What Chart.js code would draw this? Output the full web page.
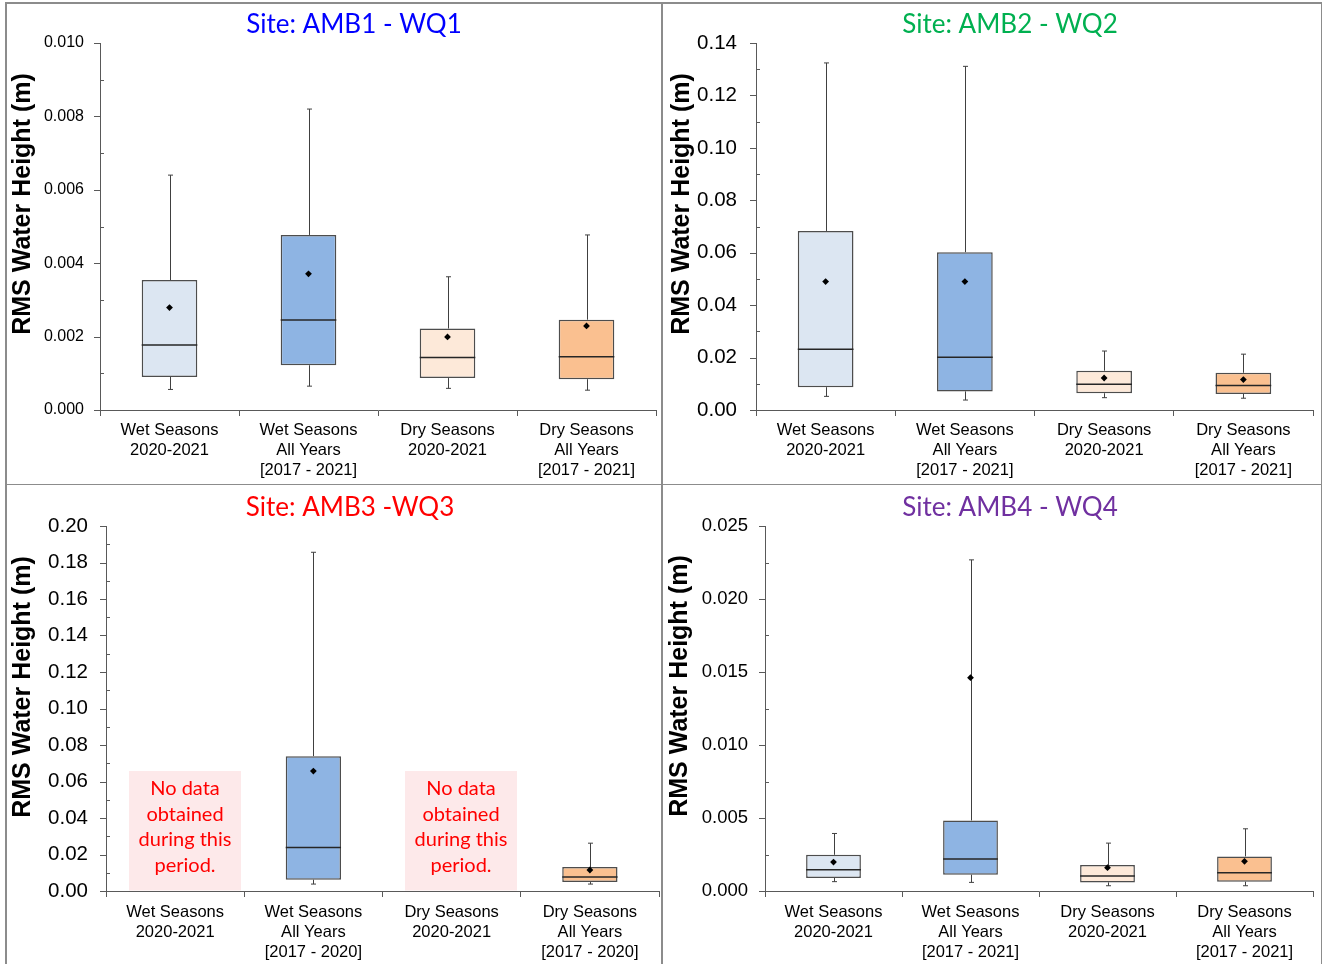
<!DOCTYPE html>
<html><head><meta charset="utf-8">
<script src="https://cdn.jsdelivr.net/npm/chart.js@4.4.1/dist/chart.umd.min.js"></script>
<style>
html,body{margin:0;padding:0;background:#fff;}
body{width:1327px;height:964px;position:relative;overflow:hidden;}
canvas{position:absolute;}
.f{position:absolute;background:#8c8c8c;z-index:5;}
</style></head><body>
<canvas id="c1" width="663" height="485" style="left:0px;top:0px"></canvas>
<canvas id="c2" width="664" height="485" style="left:663px;top:0px"></canvas>
<canvas id="c3" width="663" height="479" style="left:0px;top:485px"></canvas>
<canvas id="c4" width="664" height="479" style="left:663px;top:485px"></canvas>
<div class="f" style="left:5px;top:2px;width:1317px;height:1.5px"></div>
<div class="f" style="left:5px;top:2px;width:1.5px;height:962px"></div>
<div class="f" style="left:1320.5px;top:2px;width:1.5px;height:962px"></div>
<div class="f" style="left:661px;top:2px;width:1.5px;height:962px"></div>
<div class="f" style="left:5px;top:483.5px;width:1317px;height:1.5px"></div>
<script>
// ---- categories ----
const categoriesA = [["Wet Seasons","2020-2021"],["Wet Seasons","All Years","[2017 - 2021]"],["Dry Seasons","2020-2021"],["Dry Seasons","All Years","[2017 - 2021]"]];
const categoriesWQ3 = [["Wet Seasons","2020-2021"],["Wet Seasons","All Years","[2017 - 2020]"],["Dry Seasons","2020-2021"],["Dry Seasons","All Years","[2017 - 2020]"]];
const boxColors = ['#DCE6F2','#8EB4E3','#FDE9D9','#FAC090'];

// ---- Site AMB1 - WQ1 ----
const amb1Min    = [0.00056,0.00065,0.00059,0.00054];
const amb1Q1     = [0.00090,0.00122,0.00087,0.00084];
const amb1Median = [0.00177,0.00245,0.00143,0.00145];
const amb1Q3     = [0.00354,0.00477,0.00222,0.00246];
const amb1Max    = [0.00640,0.00820,0.00363,0.00477];
const amb1Mean   = [0.00279,0.00371,0.00199,0.00229];

// ---- Site AMB2 - WQ2 ----
const amb2Min    = [0.0052,0.0038,0.0047,0.0045];
const amb2Q1     = [0.0087,0.0071,0.0064,0.0061];
const amb2Median = [0.0232,0.0201,0.0098,0.0093];
const amb2Q3     = [0.0683,0.0602,0.0150,0.0142];
const amb2Max    = [0.1324,0.1311,0.0225,0.0213];
const amb2Mean   = [0.0490,0.0490,0.0122,0.0116];

// ---- Site AMB3 - WQ3 ----
const amb3Min    = [null,0.0038,null,0.0038];
const amb3Q1     = [null,0.0062,null,0.0049];
const amb3Median = [null,0.0239,null,0.0077];
const amb3Q3     = [null,0.0739,null,0.0131];
const amb3Max    = [null,0.1856,null,0.0262];
const amb3Mean   = [null,0.0657,null,0.0115];

// ---- Site AMB4 - WQ4 ----
const amb4Min    = [0.00064,0.00059,0.00036,0.00036];
const amb4Q1     = [0.00089,0.00112,0.00059,0.00064];
const amb4Median = [0.00146,0.00219,0.00103,0.00125];
const amb4Q3     = [0.00248,0.00483,0.00178,0.00237];
const amb4Max    = [0.00394,0.02268,0.00328,0.00426];
const amb4Mean   = [0.00198,0.01461,0.00160,0.00203];

// ---- y axis ranges / ticks ----
const amb1Axis = {max:0.010, major:0.002, minor:0.001, dec:3};
const amb2Axis = {max:0.14, major:0.02, minor:0.01, dec:2};
const amb3Axis = {max:0.20, major:0.02, minor:0.01, dec:2};
const amb4Axis = {max:0.025, major:0.005, minor:0.0025, dec:3};

const noDataText = ["No data","obtained","during this","period."];

const AXIS_COLOR = '#595959';

function isMajor(v, major){ const r = v/major; return Math.abs(r-Math.round(r)) < 1e-6; }

const boxPlugin = {
  id:'boxExtras',
  afterDatasetDraw(chart, args, opts){
    if (args.index !== 0) return;
    const ctx = chart.ctx, y = chart.scales.y;
    const meta = chart.getDatasetMeta(0);
    meta.data.forEach((el, i) => {
      if (opts.median[i] == null) return;
      const x = Math.round(el.x) + 0.5, w = el.width;
      ctx.save();
      ctx.strokeStyle = '#404040'; ctx.lineWidth = 1;
      const yQ3 = y.getPixelForValue(opts.q3[i]), yMax = y.getPixelForValue(opts.max[i]);
      const yQ1 = y.getPixelForValue(opts.q1[i]), yMin = y.getPixelForValue(opts.min[i]);
      ctx.beginPath();
      ctx.moveTo(x, yQ3); ctx.lineTo(x, yMax);
      ctx.moveTo(x-2.5, yMax); ctx.lineTo(x+2.5, yMax);
      ctx.moveTo(x, yQ1); ctx.lineTo(x, yMin);
      ctx.moveTo(x-2.5, yMin); ctx.lineTo(x+2.5, yMin);
      ctx.stroke();
      const yMed = y.getPixelForValue(opts.median[i]);
      ctx.strokeStyle = '#262626'; ctx.lineWidth = 1.5;
      ctx.beginPath(); ctx.moveTo(el.x - w/2, yMed); ctx.lineTo(el.x + w/2, yMed); ctx.stroke();
      ctx.restore();
    });
  }
};

const tickPlugin = {
  id:'minorTicks',
  afterDraw(chart, args, opts){
    const ctx = chart.ctx, y = chart.scales.y, left = chart.chartArea.left;
    ctx.save(); ctx.strokeStyle = AXIS_COLOR; ctx.lineWidth = 1;
    ctx.beginPath();
    y.ticks.forEach(t => {
      const py = Math.round(y.getPixelForValue(t.value)) + 0.5;
      if (isMajor(t.value, opts.major)) { ctx.moveTo(left-6, py); ctx.lineTo(left, py); }
      else { ctx.moveTo(left, py); ctx.lineTo(left+4, py); }
    });
    ctx.stroke(); ctx.restore();
  }
};

const decorPlugin = {
  id:'decor',
  beforeDatasetsDraw(chart, args, opts){
    const ctx = chart.ctx;
    (opts.notes||[]).forEach(n => {
      ctx.save();
      ctx.fillStyle = '#FDE9EA';
      ctx.fillRect(n.x0, n.y0, n.x1-n.x0, n.y1-n.y0);
      ctx.fillStyle = '#FF0000';
      ctx.font = '20px Lato';
      ctx.textAlign = 'center'; ctx.textBaseline = 'alphabetic';
      n.lines.forEach((ln, k) => ctx.fillText(ln, (n.x0+n.x1)/2, n.base + k*25.7));
      ctx.restore();
    });
  },
  afterDraw(chart, args, opts){
    const ctx = chart.ctx;
    ctx.save();
    ctx.fillStyle = opts.titleColor;
    ctx.font = '26px Lato';
    ctx.textAlign = 'center'; ctx.textBaseline = 'alphabetic';
    ctx.fillText(opts.title, opts.tx, opts.ty);
    ctx.translate(opts.yx, opts.yy);
    ctx.rotate(-Math.PI/2);
    ctx.fillStyle = '#000';
    ctx.font = 'bold 25px "Liberation Sans", Arial';
    ctx.textBaseline = 'middle';
    ctx.fillText(opts.yTitle, 0, 0);
    ctx.restore();
  }
};

function makeChart(id, cfg){
  const d = cfg.data;
  const ax = cfg.axis;
  new Chart(document.getElementById(id), {
    data: {
      labels: cfg.labels,
      datasets: [
        { type:'bar', order:2,
          data: d.q1.map((v,i) => v==null ? null : [v, d.q3[i]]),
          backgroundColor: boxColors, borderColor:'#4d4d4d', borderWidth:1.5, borderSkipped:false,
          barPercentage:0.4, categoryPercentage:1.0 },
        { type:'line', order:1, data: d.mean, showLine:false,
          pointStyle:'rectRot', pointRadius:3.4, pointBackgroundColor:'#000', pointBorderColor:'#000', pointBorderWidth:0 }
      ]
    },
    options: {
      responsive:false, animation:false, devicePixelRatio:1,
      layout:{ padding:{ top:cfg.padTop, right:cfg.padRight, left:0, bottom:0 } },
      plugins:{
        legend:{display:false}, tooltip:{enabled:false}, title:{display:false},
        boxExtras:{ min:d.min, q1:d.q1, median:d.median, q3:d.q3, max:d.max },
        minorTicks:{ major:ax.major },
        decor:{ title:cfg.title, titleColor:cfg.titleColor, tx:cfg.tx, ty:cfg.ty,
                yTitle:'RMS Water Height (m)', yx:cfg.yx, yy:cfg.yy, notes:cfg.notes }
      },
      scales:{
        x:{ type:'category', offset:true,
            afterFit(s){ s.height = cfg.xH; },
            grid:{ display:true, offset:true, drawOnChartArea:false, drawTicks:true, tickLength:6, color:AXIS_COLOR, lineWidth:1 },
            border:{ display:true, color:AXIS_COLOR, width:1 },
            ticks:{ autoSkip:false, maxRotation:0, padding:cfg.xPad, color:'#000',
                    font:{ family:'"Liberation Sans", Arial', size:16.5, lineHeight:1.19 } } },
        y:{ type:'linear', min:0, max:ax.max,
            afterFit(s){ s.width = cfg.yW; },
            grid:{ display:true, drawOnChartArea:false, drawTicks:false },
            border:{ display:true, color:AXIS_COLOR, width:1 },
            ticks:{ stepSize:ax.minor, autoSkip:false, padding:cfg.tickPad, color:'#000',
                    font:{ family:'"Liberation Sans", Arial', size:cfg.tickSize },
                    callback:(v) => isMajor(v, ax.major) ? Number(v).toFixed(ax.dec) : '' } }
      }
    },
    plugins:[boxPlugin, tickPlugin, decorPlugin]
  });
}

makeChart('c1', { labels:categoriesA, axis:amb1Axis,
  data:{min:amb1Min,q1:amb1Q1,median:amb1Median,q3:amb1Q3,max:amb1Max,mean:amb1Mean},
  padTop:43, padRight:7, yW:100, xH:75, xPad:5, tickPad:16, tickSize:16,
  title:'Site: AMB1 - WQ1', titleColor:'#0000FF', tx:354, ty:33, yx:23, yy:204 });

makeChart('c2', { labels:categoriesA, axis:amb2Axis,
  data:{min:amb2Min,q1:amb2Q1,median:amb2Median,q3:amb2Q3,max:amb2Max,mean:amb2Mean},
  padTop:43, padRight:14, yW:93, xH:75, xPad:5, tickPad:19, tickSize:20.5,
  title:'Site: AMB2 - WQ2', titleColor:'#00B050', tx:347, ty:33, yx:19, yy:204 });

makeChart('c3', { labels:categoriesWQ3, axis:amb3Axis,
  data:{min:amb3Min,q1:amb3Q1,median:amb3Median,q3:amb3Q3,max:amb3Max,mean:amb3Mean},
  padTop:41, padRight:0, yW:106, xH:73, xPad:6, tickPad:18, tickSize:20.5,
  title:'Site: AMB3 -WQ3', titleColor:'#FF0000', tx:350, ty:31, yx:23, yy:202,
  notes:[ {x0:129, x1:241, y0:286, y1:405.5, base:310, lines:noDataText},
          {x0:405, x1:517, y0:286, y1:405.5, base:310, lines:noDataText} ] });

makeChart('c4', { labels:categoriesA, axis:amb4Axis,
  data:{min:amb4Min,q1:amb4Q1,median:amb4Median,q3:amb4Q3,max:amb4Max,mean:amb4Mean},
  padTop:41, padRight:14, yW:102, xH:73, xPad:6, tickPad:17, tickSize:18.5,
  title:'Site: AMB4 - WQ4', titleColor:'#7030A0', tx:347, ty:31, yx:17, yy:201 });
</script>
</body></html>
